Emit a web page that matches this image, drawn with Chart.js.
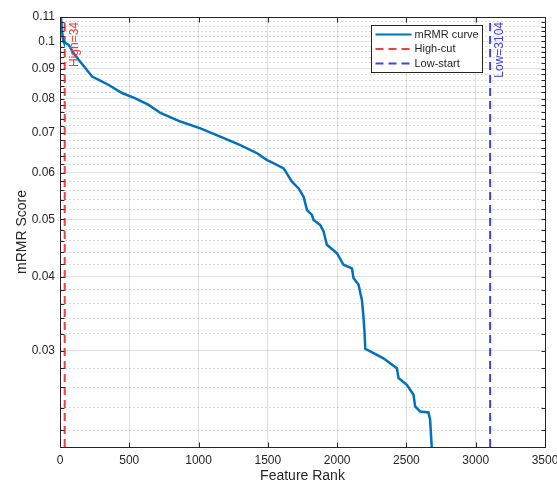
<!DOCTYPE html>
<html>
<head>
<meta charset="utf-8">
<title>mRMR curve</title>
<script src="https://cdn.jsdelivr.net/npm/chart.js@4.4.1/dist/chart.umd.min.js"></script>
<style>
  html, body { margin: 0; padding: 0; background: #fff; }
</style>
</head>
<body>
<canvas id="myChart" width="557" height="486"></canvas>
<script>
// mRMR score of each feature, sorted by rank
const featureRank = [0, 7, 14, 22, 27, 63, 99, 136, 184, 232, 280, 352, 448, 544, 640, 725, 869, 1013,
  1157, 1301, 1422, 1494, 1518, 1614, 1674, 1722, 1758, 1782, 1818, 1830, 1878, 1902, 1926, 1999, 2046,
  2107, 2118, 2154, 2179, 2190, 2198, 2203, 2239, 2334, 2431, 2443, 2503, 2551, 2563, 2599, 2659, 2671,
  2683, 2684];
const mrmrScore = [0.115, 0.110, 0.1046, 0.1006, 0.0999, 0.0986, 0.0955, 0.0930, 0.0901, 0.0872, 0.0861,
  0.0844, 0.0818, 0.0801, 0.0781, 0.0757, 0.0732, 0.0713, 0.0690, 0.0668, 0.0647, 0.0630, 0.0626, 0.0610,
  0.0579, 0.0564, 0.0546, 0.0519, 0.0509, 0.0499, 0.0489, 0.0477, 0.0453, 0.0438, 0.0419, 0.0413, 0.0398,
  0.0388, 0.0365, 0.0342, 0.0321, 0.0302, 0.0299, 0.0291, 0.0280, 0.02695, 0.02625, 0.02525, 0.02412,
  0.02366, 0.02357, 0.0229, 0.0205, 0.019];

// cut points
const highCut = 34;
const lowStart = 3104;

// axis limits and labelled ticks
const xMin = 0, xMax = 3500, xStep = 500;
const yMin = 0.0206, yMax = 0.11;
const yMajorTicks = [0.03, 0.04, 0.05, 0.06, 0.07, 0.08, 0.09, 0.1, 0.11];

const axisColor = '#262626';
const curveColor = 'rgb(0,114,189)';
const highColor = 'rgb(238,64,64)';
const lowColor = 'rgb(64,64,240)';

Chart.defaults.font.family = "'Liberation Sans', Arial, Helvetica, sans-serif";
Chart.defaults.color = axisColor;

// grid every 0.002 on the log axis, labels only on the majors
const yGridTicks = [];
for (let i = 22; i <= 110; i += 2) yGridTicks.push(i / 1000);
const isMajor = v => yMajorTicks.some(m => Math.abs(m - v) < 1e-9);

// inward tick marks and the box around the plot
const framePlugin = {
  id: 'frame',
  afterDraw(chart) {
    const { ctx, chartArea: a, scales: { x, y } } = chart;
    const L = Math.round(a.left) + 0.5, R = Math.round(a.right) + 0.5;
    const T = Math.round(a.top) + 0.5, B = Math.round(a.bottom) + 0.5;
    ctx.save();
    ctx.strokeStyle = axisColor;
    ctx.lineWidth = 1;
    ctx.beginPath();
    x.ticks.forEach(t => {
      const px = Math.round(x.getPixelForValue(t.value)) + 0.5;
      ctx.moveTo(px, B); ctx.lineTo(px, B - 5);
      ctx.moveTo(px, T); ctx.lineTo(px, T + 5);
    });
    y.ticks.forEach(t => {
      const py = Math.round(y.getPixelForValue(t.value)) + 0.5;
      ctx.moveTo(L, py); ctx.lineTo(L + 4, py);
      ctx.moveTo(R, py); ctx.lineTo(R - 4, py);
    });
    ctx.stroke();
    ctx.strokeRect(L, T, R - L, B - T);
    ctx.restore();
  }
};

// rotated text next to each cut line
const cutLabelPlugin = {
  id: 'cutLabels',
  afterDatasetsDraw(chart) {
    const { ctx, chartArea: a, scales: { x } } = chart;
    chart.data.datasets.forEach(ds => {
      if (!ds.cutLabel) return;
      const px = x.getPixelForValue(ds.data[0].x) + 10;
      ctx.save();
      ctx.translate(px, a.top + 5);
      ctx.rotate(-Math.PI / 2);
      ctx.font = "12px 'Liberation Sans', Arial, sans-serif";
      ctx.fillStyle = ds.borderColor;
      ctx.textAlign = 'right';
      ctx.textBaseline = 'middle';
      ctx.fillText(ds.cutLabel, 0, 0);
      ctx.restore();
    });
  }
};

// boxed legend in the upper right of the axes
const boxLegendPlugin = {
  id: 'boxLegend',
  afterDraw(chart) {
    const { ctx, chartArea: a } = chart;
    const w = 111, h = 47;
    const left = Math.round(a.right - 63 - w) + 0.5;
    const top = Math.round(a.top + 8) + 0.5;
    ctx.save();
    ctx.fillStyle = '#fff';
    ctx.fillRect(left, top, w, h);
    ctx.strokeStyle = axisColor;
    ctx.lineWidth = 1;
    ctx.strokeRect(left, top, w, h);
    ctx.font = "11px 'Liberation Sans', Arial, sans-serif";
    ctx.textBaseline = 'middle';
    ctx.textAlign = 'left';
    chart.data.datasets.forEach((ds, i) => {
      const cy = top + 9 + i * 14.5;
      ctx.beginPath();
      ctx.setLineDash(ds.borderDash || []);
      ctx.strokeStyle = ds.borderColor;
      ctx.lineWidth = 2;
      ctx.moveTo(left + 4, cy);
      ctx.lineTo(left + 40, cy);
      ctx.stroke();
      ctx.setLineDash([]);
      ctx.fillStyle = axisColor;
      ctx.fillText(ds.label, left + 43, cy);
    });
    ctx.restore();
  }
};

const ctx = document.getElementById('myChart').getContext('2d');
const myChart = new Chart(ctx, {
  type: 'line',
  data: {
    datasets: [{
      label: 'mRMR curve',
      data: featureRank.map((r, i) => ({ x: r, y: mrmrScore[i] })),
      borderColor: curveColor,
      borderWidth: 2.5,
      pointRadius: 0,
      tension: 0,
      clip: 0
    }, {
      label: 'High-cut',
      cutLabel: 'High=' + highCut,
      data: [{ x: highCut, y: yMin }, { x: highCut, y: yMax }],
      borderColor: highColor,
      borderDash: [8, 5],
      borderWidth: 2,
      pointRadius: 0
    }, {
      label: 'Low-start',
      cutLabel: 'Low=' + lowStart,
      data: [{ x: lowStart, y: yMin }, { x: lowStart, y: yMax }],
      borderColor: lowColor,
      borderDash: [8, 5],
      borderWidth: 2,
      pointRadius: 0
    }]
  },
  options: {
    responsive: false,
    animation: false,
    layout: { padding: { left: 0, top: 17, right: 12, bottom: 0 } },
    plugins: {
      legend: { display: false },
      tooltip: { enabled: false }
    },
    scales: {
      x: {
        type: 'linear',
        min: xMin,
        max: xMax,
        afterFit: scale => {
          scale.height = 39;
          scale.paddingLeft = 0;
          scale.paddingRight = 0;
        },
        grid: { color: 'rgba(0,0,0,0.12)', drawTicks: false },
        border: { color: axisColor },
        ticks: {
          stepSize: xStep,
          padding: 6,
          maxRotation: 0,
          font: { size: 12 },
          callback: v => String(v)
        },
        title: {
          display: true,
          text: 'Feature Rank',
          font: { size: 14 },
          padding: { top: 0, bottom: 1 }
        }
      },
      y: {
        type: 'logarithmic',
        min: yMin,
        max: yMax,
        afterFit: scale => {
          scale.width = 60;
          scale.paddingTop = 0;
          scale.paddingBottom = 0;
        },
        afterBuildTicks: scale => { scale.ticks = yGridTicks.map(v => ({ value: v })); },
        grid: {
          drawTicks: false,
          color: c => (c.tick && isMajor(c.tick.value)) ? 'rgba(0,0,0,0.12)' : 'rgba(0,0,0,0.14)'
        },
        border: {
          color: axisColor,
          dash: c => (c.tick && !isMajor(c.tick.value)) ? [2, 2] : []
        },
        ticks: {
          autoSkip: false,
          padding: 5,
          font: { size: 12 },
          callback: v => isMajor(v) ? String(Math.round(v * 1000) / 1000) : ''
        },
        title: {
          display: true,
          text: 'mRMR Score',
          font: { size: 14 },
          padding: { top: 14, bottom: 0 }
        }
      }
    }
  },
  plugins: [framePlugin, cutLabelPlugin, boxLegendPlugin]
});
</script>
</body>
</html>
